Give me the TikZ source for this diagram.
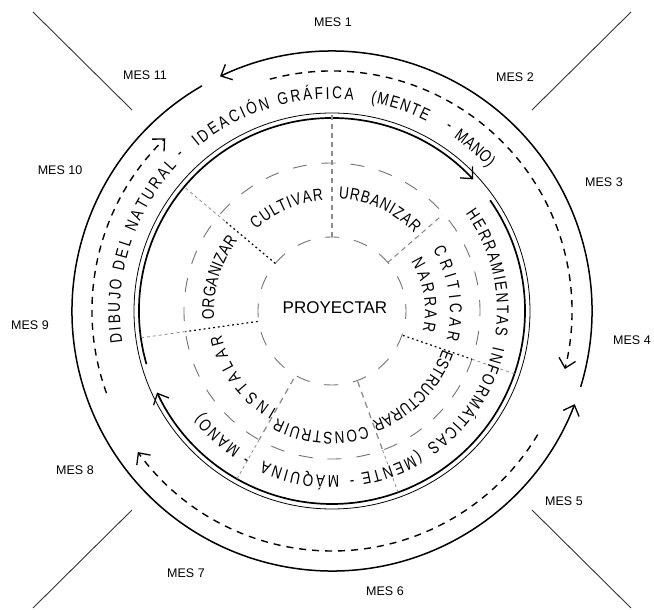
\documentclass[tikz,border=0pt]{standalone}
\usepackage{fontspec}
\setmainfont{Liberation Sans}
\newfontfamily\ringfam{Liberation Sans}[FakeStretch=0.8]
\usetikzlibrary{arrows.meta,decorations.text}
\newcommand\rgf{\ringfam\fontsize{17}{20}\selectfont}
\newcommand\ringtext[4]{\path[decorate,decoration={text along path,text={|\rgf|#4},text align={fit to path}}] (#1:#3) arc[start angle=#1,end angle=#2,radius=#3];}
\tikzset{
  mes/.style={font=\fontsize{12.5}{15}\selectfont, inner sep=0pt},
  outerarc/.style={line width=1.5pt},
  dasharc/.style={line width=1.4pt, dash pattern=on 7pt off 6pt},
  thickarc/.style={line width=1.7pt},
  barbend/.style={-{Straight Barb[length=9pt,width=17pt,line width=1.3pt]}},
  graycirc/.style={draw=black!55, line width=0.9pt, dash pattern=on 14pt off 15pt},
  graydash/.style={draw=black!45, line width=1.1pt, dash pattern=on 5pt off 4pt},
  grayfine/.style={draw=black!45, line width=0.8pt, dash pattern=on 3pt off 3pt},
  blackdot/.style={draw=black, line width=1.2pt, dash pattern=on 1.8pt off 3pt},
  diag/.style={draw=black!80, line width=0.9pt},
  hyph/.style={font=\rgf, inner sep=0pt}
}
\begin{document}
\begin{tikzpicture}[x=1pt,y=1pt]
\useasboundingbox (-332,-299) rectangle (322,311);

% diagonal corner lines
\coordinate (tla) at (-299,299); \coordinate (tlb) at (-200,201);
\coordinate (tra) at (299,299);  \coordinate (trb) at (200,201);
\coordinate (bra) at (200,-199); \coordinate (brb) at (299,-297);
\coordinate (bla) at (-200,-199);\coordinate (blb) at (-299,-297);
\draw[diag] (tla) -- (tlb);
\draw[diag] (tra) -- (trb);
\draw[diag] (bra) -- (brb);
\draw[diag] (bla) -- (blb);

% month labels
\node[mes] (m1)  at (1,289)     {MES 1};
\node[mes] (m2)  at (183,234)   {MES 2};
\node[mes] (m3)  at (272,129)   {MES 3};
\node[mes] (m4)  at (300,-29)   {MES 4};
\node[mes] (m5)  at (232,-190)  {MES 5};
\node[mes] (m6)  at (53,-280)   {MES 6};
\node[mes] (m7)  at (-146,-262) {MES 7};
\node[mes] (m8)  at (-257,-159) {MES 8};
\node[mes] (m9)  at (-302,-14)  {MES 9};
\node[mes] (m10) at (-272,141)  {MES 10};
\node[mes] (m11) at (-187,236)  {MES 11};

% outer solid arcs
\draw[outerarc,barbend] (-17:260) arc[start angle=-17,end angle=115.5,radius=260];
\draw[outerarc,barbend] (120:260) arc[start angle=120,end angle=339,radius=260];

% dashed arcs
\draw[dasharc,barbend] (105:240) arc[start angle=105,end angle=-14,radius=240];
\draw[dasharc,barbend] (-31:240) arc[start angle=-31,end angle=-144,radius=240];
\draw[dasharc,barbend] (200:240) arc[start angle=200,end angle=134,radius=240];

% thin circle and thick arcs
\draw[line width=0.8pt] (0,0) circle[radius=198];
\draw[thickarc,barbend] (196:193) arc[start angle=196,end angle=43,radius=193];
\draw[thickarc,barbend] (35:193) arc[start angle=35,end angle=-155,radius=193];

% gray dashed circles
\draw[graycirc, dash phase=7pt] (0,0) circle[radius=74];
\draw[graycirc, dash phase=3pt] (0,0) circle[radius=148];

% radial separators
\draw[graydash] (90:74) -- (90:198);
\draw[graydash] (41:74) -- (41:146);
\draw[blackdot] (-19:75) -- (-19:148);
\draw[grayfine] (-19:148) -- (-19:193);
\draw[graydash, line width=1.3pt, dash pattern=on 6pt off 5pt] (-70:75) -- (-70:148);
\draw[grayfine] (-70:148) -- (-70:193);
\draw[graydash, line width=1.3pt, dash pattern=on 6pt off 5pt] (-119.5:78) -- (-119.5:148);
\draw[grayfine] (-119.5:148) -- (-119.5:193);
\draw[blackdot] (188:75) -- (188:148);
\draw[grayfine] (188:148) -- (188:195);
\draw[blackdot] (140:74) -- (140:140);
\draw[grayfine] (140:140) -- (140:193);

% centre
\node[font=\fontsize{17}{20}\selectfont, inner sep=0pt] (proy) at (3,3) {PROYECTAR};

% outer ring text
\ringtext{188.5}{137}{212}{DIBUJO DEL NATURAL}
\node[hyph, rotate=44] (h1) at (134:217) {-};
\ringtext{129.3}{84.2}{212}{IDEACIÓN GRÁFICA}
\ringtext{79.5}{63.5}{212}{(MENTE}
\node[hyph, rotate=-32.4] (h2) at (57.6:217) {-};
\ringtext{55}{42.5}{212}{MANO)}

% second ring text
\ringtext{36}{-8.5}{165}{HERRAMIENTAS}
\ringtext{-12.5}{-55}{165}{INFORMÁTICAS}
\ringtext{-58.5}{-80}{165}{(MENTE}
\node[hyph, rotate=-173.3] (h3) at (-83.3:170) {-};
\ringtext{-87.5}{-114.5}{165}{MÁQUINA}
\node[hyph, rotate=-210] (h4) at (-120:170) {-};
\ringtext{-123.5}{-142}{165}{MANO)}

% inner ring text
\ringtext{133}{94.5}{111}{CULTIVAR}
\ringtext{86.7}{43.3}{113}{URBANIZAR}
\ringtext{31.3}{-14.2}{118}{CRITICAR}
\ringtext{31.8}{-12.7}{93}{NARRAR}
\ringtext{-19}{-70}{117}{ESTRUCTURAR}
\ringtext{-73.2}{-117.2}{121}{CONSTRUIR}
\ringtext{240.7}{192}{113}{INSTALAR}
\ringtext{184}{143}{118}{ORGANIZAR}
\end{tikzpicture}
\end{document}
